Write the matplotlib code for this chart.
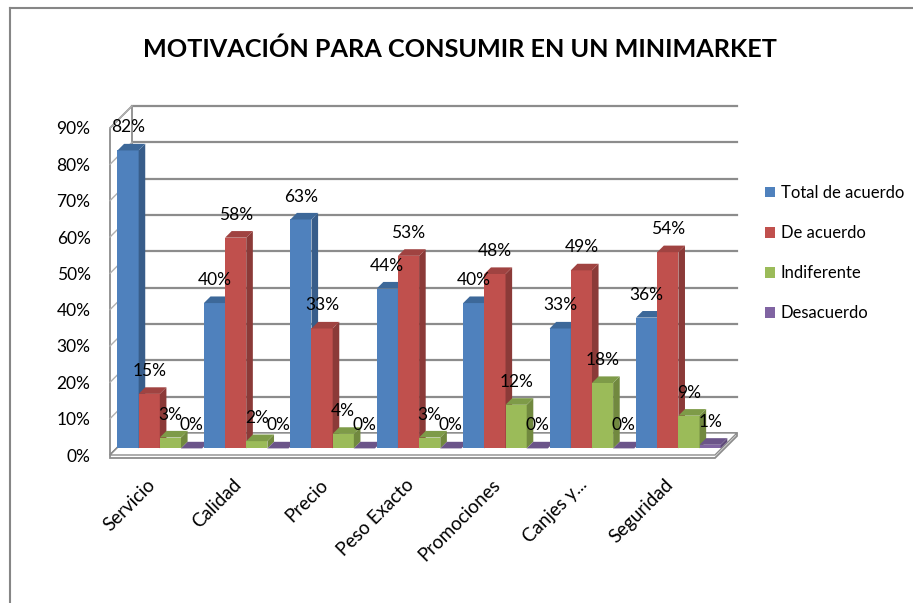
import matplotlib
matplotlib.use("Agg")
import matplotlib.pyplot as plt
from matplotlib.patches import Polygon
from matplotlib.lines import Line2D
import numpy as np

plt.rcParams['font.family'] = ['Lato', 'DejaVu Sans']

categories = ["Servicio", "Calidad", "Precio", "Peso Exacto", "Promociones", "Canjes y...", "Seguridad"]
series_names = ["Total de acuerdo", "De acuerdo", "Indiferente", "Desacuerdo"]
total_de_acuerdo = [0.82, 0.40, 0.63, 0.44, 0.40, 0.33, 0.36]
de_acuerdo = [0.15, 0.58, 0.33, 0.53, 0.48, 0.49, 0.54]
indiferente = [0.03, 0.02, 0.04, 0.03, 0.12, 0.18, 0.09]
desacuerdo = [0.00, 0.00, 0.00, 0.00, 0.00, 0.00, 0.01]
series = [total_de_acuerdo, de_acuerdo, indiferente, desacuerdo]
labels = [["82%", "40%", "63%", "44%", "40%", "33%", "36%"],
          ["15%", "58%", "33%", "53%", "48%", "49%", "54%"],
          ["3%", "2%", "4%", "3%", "12%", "18%", "9%"],
          ["0%", "0%", "0%", "0%", "0%", "0%", "1%"]]
yticks = [0.0, 0.1, 0.2, 0.3, 0.4, 0.5, 0.6, 0.7, 0.8, 0.9]
ytick_labels = ["0%", "10%", "20%", "30%", "40%", "50%", "60%", "70%", "80%", "90%"]

front_c = ["#4F81BD", "#C0504D", "#9BBB59", "#8064A2"]
side_c = ["#385D8A", "#8B3A38", "#71893F", "#5E4A78"]
top_c = ["#3D6899", "#A04341", "#7E9B48", "#6B5489"]

W, H = 913, 603
fig = plt.figure(figsize=(W / 100, H / 100), dpi=100)
# front plane in pixels
L, R, B, T = 110, 715, 455, 128
ax = fig.add_axes([L / W, 1 - B / H, (R - L) / W, (B - T) / H])
ax.set_xlim(-0.5, 6.5)
ax.set_ylim(0, 0.9)
for s in ax.spines.values():
    s.set_visible(False)

px_x = (R - L) / 7.0
px_y = (B - T) / 0.9
DX = 22 / px_x
DY = 22 / px_y
gray = "#8C8C8C"

# left wall
ax.add_patch(Polygon([(-0.5, 0), (-0.5, 0.9), (-0.5 + DX, 0.9 + DY), (-0.5 + DX, DY)],
                     closed=True, facecolor="white", edgecolor=gray, lw=1.3, clip_on=False, zorder=1))
# floor slab
th = 3 / px_y
ax.add_patch(Polygon([(-0.5, -th), (6.5, -th), (6.5 + DX, DY - th), (6.5 + DX, DY), (-0.5 + DX, DY), (-0.5, 0)],
                     closed=True, facecolor="white", edgecolor=gray, lw=1.3, clip_on=False, zorder=1))
ax.add_patch(Polygon([(-0.5, 0), (6.5, 0), (6.5 + DX, DY), (-0.5 + DX, DY)],
                     closed=True, facecolor="white", edgecolor=gray, lw=1.0, clip_on=False, zorder=1.1))
# gridlines on back wall and left wall
for t in yticks[1:]:
    ax.plot([-0.5 + DX, 6.5 + DX], [t + DY, t + DY], color=gray, lw=1.6, clip_on=False, zorder=0.5)
    ax.plot([-0.5, -0.5 + DX], [t, t + DY], color="#B0B0B0", lw=1.0, clip_on=False, zorder=1.2)

f0, f1 = 0.3, 0.6
w = 0.245
x = np.arange(len(categories))
z = 2
for i in range(len(categories)):
    for j in range(4):
        v = series[j][i]
        x0 = x[i] - 0.5 + 0.01 + j * w + f0 * DX
        b = f0 * DY
        x1 = x0 + w
        ddx, ddy = (f1 - f0) * DX, (f1 - f0) * DY
        ax.bar(x0, v, width=w, bottom=b, align='edge', color=front_c[j],
               edgecolor="none", zorder=z, clip_on=False)
        ax.add_patch(Polygon([(x1, b), (x1 + ddx, b + ddy), (x1 + ddx, b + v + ddy), (x1, b + v)],
                             closed=True, facecolor=side_c[j], edgecolor="none", zorder=z + 0.1, clip_on=False))
        ax.add_patch(Polygon([(x0, b + v), (x1, b + v), (x1 + ddx, b + v + ddy), (x0 + ddx, b + v + ddy)],
                             closed=True, facecolor=top_c[j], edgecolor="none", zorder=z + 0.2, clip_on=False))
        z += 1
        ax.annotate(labels[j][i], (x0 + w / 2, b + v), xytext=(0, 23), textcoords='offset pixels',
                    ha='center', va='center', fontsize=12.5, color="black", zorder=200)

ax.set_yticks(yticks)
ax.set_yticklabels(ytick_labels, fontsize=12.5)
ax.tick_params(axis='y', length=0, pad=14)
ax.set_xticks([])
for i, c in enumerate(categories):
    ax.annotate(c, (x[i], 0), xytext=(-1, -27), textcoords='offset pixels',
                rotation=45, ha='right', va='center', rotation_mode='anchor', fontsize=13.5)

# legend
handles = [plt.Rectangle((0, 0), 1, 1, facecolor=c, edgecolor='none') for c in front_c]
fig.legend(handles, series_names, loc='upper left', bbox_to_anchor=(750 / W, 1 - 170 / H),
           frameon=False, fontsize=12, handlelength=0.6, handleheight=0.6,
           handletextpad=0.35, labelspacing=1.45)

fig.text(460 / W, 1 - 49 / H, "MOTIVACIÓN PARA CONSUMIR EN UN MINIMARKET",
         ha='center', va='center', fontsize=18.2, fontweight='bold')

# chart border
fig.add_artist(Line2D([10 / W, 10 / W], [0, 1 - 8 / H], color="#868686", lw=1.5))
fig.add_artist(Line2D([10 / W, 1], [1 - 8 / H, 1 - 8 / H], color="#868686", lw=1.5))

fig.savefig("out.png", dpi=100)
